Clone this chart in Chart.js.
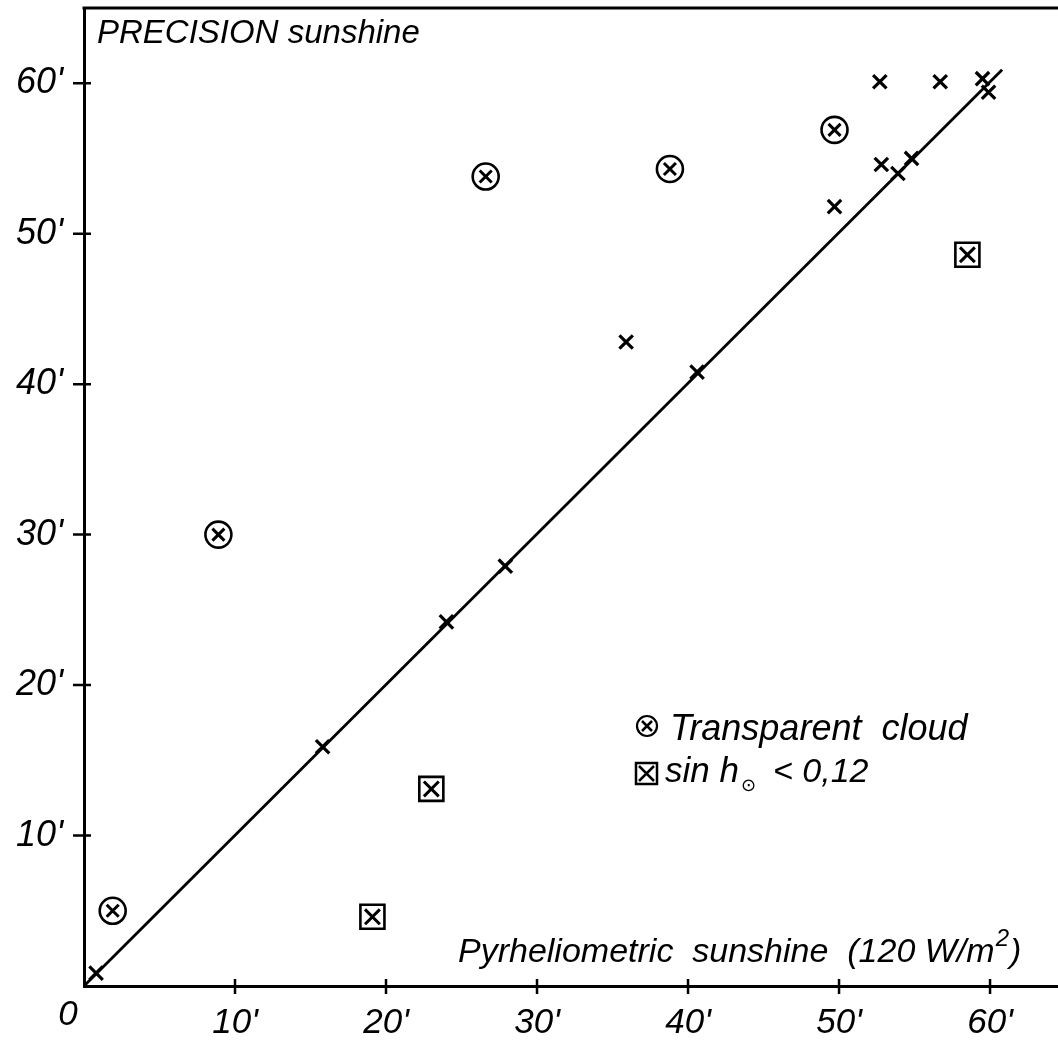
<!DOCTYPE html>
<html>
<head>
<meta charset="utf-8">
<script src="https://cdn.jsdelivr.net/npm/chart.js@4/dist/chart.umd.min.js"></script>
<style>
  html, body { margin: 0; padding: 0; background: #fff; }
  canvas { display: block; }
</style>
</head>
<body>
<canvas id="c" width="1058" height="1042"></canvas>
<script>
// ---- data (minutes of sunshine) ----
const xTickValues = [0, 10, 20, 30, 40, 50, 60];
const xTickLabels = ["0", "10'", "20'", "30'", "40'", "50'", "60'"];
const yTickValues = [10, 20, 30, 40, 50, 60];
const yTickLabels = ["10'", "20'", "30'", "40'", "50'", "60'"];

// plain measurements (x)
const crossX = [0.8, 15.8, 24.0, 27.9, 40.6, 53.9, 54.8, 35.9, 49.7, 52.8, 52.7, 56.7, 59.5, 59.9];
const crossY = [0.85, 15.9, 24.2, 27.9, 40.8, 54.0, 55.0, 42.8, 51.8, 54.6, 60.1, 60.1, 60.3, 59.4];
// transparent cloud (circled x)
const cloudX = [1.9, 8.9, 26.6, 38.8, 49.7];
const cloudY = [5.0, 30.0, 53.8, 54.3, 56.9];
// sin h < 0.12 (boxed x)
const lowSunX = [19.1, 23.0, 58.5];
const lowSunY = [4.6, 13.1, 48.6];
// 1:1 reference line
const lineX = [0, 60.8];
const lineY = [0, 60.9];

const titleText = "PRECISION sunshine";
const xTitleText = "Pyrheliometric  sunshine  (120 W/m";
const xTitleSup = "2";
const xTitleEnd = ")";
const legendCloud = "Transparent  cloud";
const legendSunA = "sin h";
const legendSunSub = "\u2299";
const legendSunB = "< 0,12";

const FONT = "'Liberation Sans', Arial, sans-serif";
const pts = (xs, ys) => xs.map((x, i) => ({ x: x, y: ys[i] }));

const overlay = {
  id: 'overlay',
  afterDraw(chart) {
    const { ctx, chartArea: a, scales } = chart;
    const xs = scales.x, ys = scales.y;
    ctx.save();
    ctx.strokeStyle = '#000';
    ctx.fillStyle = '#000';
    // top frame line
    ctx.lineWidth = 3;
    ctx.beginPath();
    ctx.moveTo(a.left - 1.5, a.top);
    ctx.lineTo(a.right, a.top);
    ctx.stroke();
    // tick marks crossing the axes
    ctx.lineWidth = 2.5;
    ctx.beginPath();
    ys.ticks.forEach(t => {
      const y = ys.getPixelForValue(t.value);
      ctx.moveTo(a.left - 11, y);
      ctx.lineTo(a.left + 7, y);
    });
    xs.ticks.forEach(t => {
      if (t.value === 0) return;
      const x = xs.getPixelForValue(t.value);
      ctx.moveTo(x, a.bottom - 7);
      ctx.lineTo(x, a.bottom + 8);
    });
    ctx.stroke();

    // origin label "0"
    ctx.font = "italic 35px " + FONT;
    ctx.textAlign = 'center';
    ctx.textBaseline = 'middle';
    ctx.fillText(xTickLabels[0], xs.getPixelForValue(0) - 16, a.bottom + 8 + 21);

    // title
    ctx.textAlign = 'left';
    ctx.textBaseline = 'alphabetic';
    ctx.font = "italic 33px " + FONT;
    ctx.fillText(titleText, 97, 43);

    // x axis title
    ctx.font = "italic 34px " + FONT;
    let x0 = 458;
    ctx.fillText(xTitleText, x0, 962);
    x0 += ctx.measureText(xTitleText).width + 1;
    ctx.font = "italic 24px " + FONT;
    ctx.fillText(xTitleSup, x0, 946);
    x0 += ctx.measureText(xTitleSup).width + 1;
    ctx.font = "italic 34px " + FONT;
    ctx.fillText(xTitleEnd, x0, 962);

    // legend
    ctx.lineWidth = 2.2;
    ctx.beginPath();
    ctx.arc(647, 726, 10, 0, Math.PI * 2);
    ctx.stroke();
    ctx.lineWidth = 2.5;
    ctx.beginPath();
    ctx.moveTo(642, 721); ctx.lineTo(652, 731);
    ctx.moveTo(652, 721); ctx.lineTo(642, 731);
    ctx.stroke();
    ctx.font = "italic 36px " + FONT;
    ctx.fillText(legendCloud, 670, 740);

    ctx.lineWidth = 2.5;
    ctx.strokeRect(636, 763, 21, 21);
    ctx.beginPath();
    ctx.moveTo(639, 766); ctx.lineTo(654, 781);
    ctx.moveTo(654, 766); ctx.lineTo(639, 781);
    ctx.stroke();
    ctx.font = "italic 35px " + FONT;
    ctx.fillText(legendSunA, 665, 782);
    let lx = 665 + ctx.measureText(legendSunA).width + 2;
    ctx.font = "18px 'DejaVu Sans', sans-serif";
    ctx.fillText(legendSunSub, lx, 791);
    ctx.font = "italic 34px " + FONT;
    ctx.fillText(legendSunB, 773, 782);
    ctx.restore();
  }
};

new Chart(document.getElementById('c').getContext('2d'), {
  type: 'scatter',
  data: {
    datasets: [
      { type: 'line', data: pts(lineX, lineY), borderColor: '#000', borderWidth: 2.8,
        pointRadius: 0, fill: false, tension: 0, backgroundColor: 'rgba(0,0,0,0)' },
      { data: pts(crossX, crossY), pointStyle: 'crossRot', pointRadius: 9.5,
        borderColor: '#000', borderWidth: 3.2, backgroundColor: 'rgba(0,0,0,0)' },
      { data: pts(cloudX, cloudY), pointStyle: 'circle', pointRadius: 13,
        borderColor: '#000', borderWidth: 2.6, backgroundColor: 'rgba(0,0,0,0)' },
      { data: pts(cloudX, cloudY), pointStyle: 'crossRot', pointRadius: 8.5,
        borderColor: '#000', borderWidth: 3, backgroundColor: 'rgba(0,0,0,0)' },
      { data: pts(lowSunX, lowSunY), pointStyle: 'rect', pointRadius: 17,
        borderColor: '#000', borderWidth: 2.6, backgroundColor: 'rgba(0,0,0,0)' },
      { data: pts(lowSunX, lowSunY), pointStyle: 'crossRot', pointRadius: 10.5,
        borderColor: '#000', borderWidth: 3, backgroundColor: 'rgba(0,0,0,0)' }
    ]
  },
  options: {
    responsive: false,
    animation: false,
    devicePixelRatio: 1,
    events: [],
    layout: { autoPadding: false, padding: { top: 8, right: 0, left: 0, bottom: 0 } },
    plugins: { legend: { display: false }, tooltip: { enabled: false } },
    scales: {
      x: {
        type: 'linear', min: 0, max: 64.5,
        afterBuildTicks: s => { s.ticks = xTickValues.map(v => ({ value: v })); },
        afterFit: s => { s.height = 56; s.paddingLeft = 0; s.paddingRight = 0; },
        grid: { display: false },
        border: { display: true, color: '#000', width: 3 },
        ticks: {
          padding: 8, color: '#000', autoSkip: false, maxRotation: 0,
          font: { family: FONT, size: 35, style: 'italic' },
          callback: (v, i) => (i === 0 ? '' : xTickLabels[i])
        }
      },
      y: {
        type: 'linear', min: 0, max: 65,
        afterBuildTicks: s => { s.ticks = yTickValues.map(v => ({ value: v })); },
        afterFit: s => { s.width = 84; s.paddingTop = 0; s.paddingBottom = 0; },
        grid: { display: false },
        border: { display: true, color: '#000', width: 3 },
        ticks: {
          padding: 13, color: '#000', autoSkip: false,
          font: { family: FONT, size: 36, style: 'italic' },
          callback: (v, i) => yTickLabels[i]
        }
      }
    }
  },
  plugins: [overlay]
});
</script>
</body>
</html>
